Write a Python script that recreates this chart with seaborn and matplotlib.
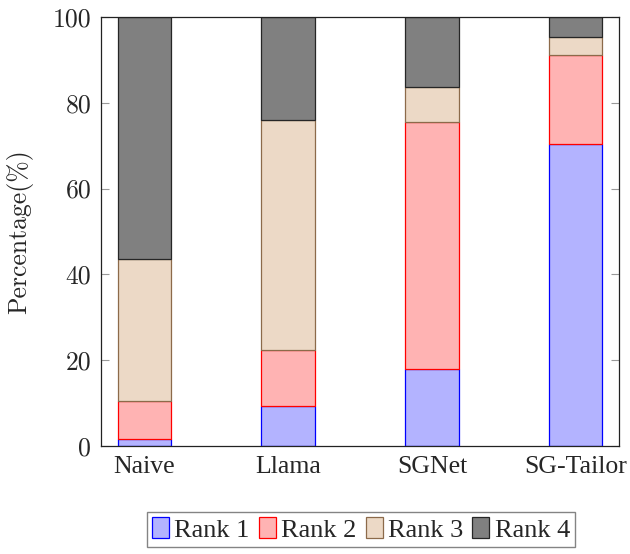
import pandas as pd
import seaborn as sns
import matplotlib.pyplot as plt

# Values (percent of each rank)
methods = ['Naive', 'Llama', 'SGNet', 'SG-Tailor']
rank1 = [1.7, 9.4, 18.0, 70.5]
rank2 = [8.7, 12.9, 57.5, 20.6]
rank3 = [33.3, 53.7, 8.2, 4.3]
rank4 = [56.3, 24.0, 16.3, 4.6]

ranks = ['Rank 1', 'Rank 2', 'Rank 3', 'Rank 4']
fills = ['#b3b3ff', '#ffb3b3', '#ecd9c6', '#808080']
edges = ['#0000ff', '#ff0000', '#8c6a4a', '#262626']

sns.set_style('white')
plt.rcParams['font.family'] = ['Liberation Serif', 'DejaVu Serif']
plt.rcParams['axes.unicode_minus'] = False

fig = plt.figure(figsize=(6.3, 5.54), dpi=100)
ax = fig.add_axes([0.1603, 0.1949, 0.8222, 0.7744])

bottom = [0.0] * len(methods)
for name, vals, fc, ec in zip(ranks, [rank1, rank2, rank3, rank4], fills, edges):
    df = pd.DataFrame({'Method': methods, 'Value': vals})
    sns.barplot(data=df, x='Method', y='Value', ax=ax, color=fc, edgecolor=ec,
                linewidth=0.9, width=0.37, bottom=bottom, label=name,
                saturation=1, errorbar=None)
    bottom = [b + v for b, v in zip(bottom, vals)]

handles, labels = ax.get_legend_handles_labels()
if ax.get_legend() is not None:
    ax.get_legend().remove()

ax.set_xlim(-0.30, 3.30)
ax.set_ylim(0, 100)
ax.set_yticks([0, 20, 40, 60, 80, 100])
ax.set_xlabel('')
ax.set_ylabel('Percentage(%)', fontsize=18.5, family='cmr10')
ax.yaxis.set_label_coords(-0.131, 0.5)
ax.tick_params(axis='y', which='both', direction='in', left=True, right=True,
               length=6, width=0.8, color='#999999', labelsize=18.5, pad=7)
ax.tick_params(axis='x', bottom=False, labelsize=18.5, pad=4)
for t in ax.get_yticklabels():
    t.set_family('cmr10')
for s in ax.spines.values():
    s.set_visible(True)
    s.set_color('#222222')
    s.set_linewidth(0.9)

leg = fig.legend(handles, labels, loc='upper center', bbox_to_anchor=(0.573, 0.0758),
                 ncol=4, fontsize=19, frameon=True, fancybox=False, edgecolor='#666666',
                 handlelength=0.64, handleheight=0.83, handletextpad=0.2,
                 columnspacing=0.35, borderpad=0.2, borderaxespad=0)
leg.get_frame().set_linewidth(1.0)

fig.savefig('out.png', dpi=100)
